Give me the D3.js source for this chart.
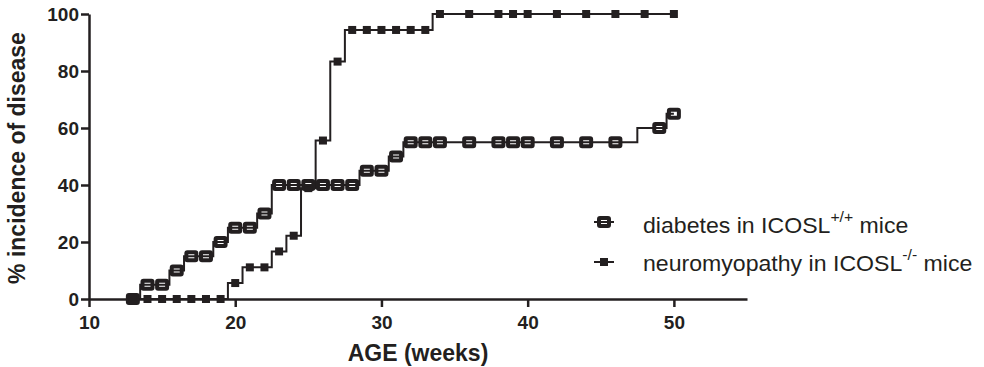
<!DOCTYPE html>
<html>
<head>
<meta charset="utf-8">
<script src="https://cdn.jsdelivr.net/npm/d3@7"></script>
<style>
  body { margin: 0; background: #fff; }
  text { font-family: "Liberation Sans", Arial, sans-serif; fill: #231f20; }
</style>
</head>
<body>
<div id="chart"></div>
<script>
// ages in weeks and % incidence
const diabetesWeeks = [13, 14, 15, 16, 17, 18, 19, 20, 21, 22, 23, 24, 25, 26, 27, 28, 29, 30, 31, 32, 33, 34, 36, 38, 39, 40, 42, 44, 46, 49, 50];
const diabetesPct = [0, 5, 5, 10, 15, 15, 20, 25, 25, 30, 40, 40, 40, 40, 40, 40, 45, 45, 50, 55, 55, 55, 55, 55, 55, 55, 55, 55, 55, 60, 65];

const neuroWeeks = [13, 14, 15, 16, 17, 18, 19, 20, 21, 22, 23, 24, 25, 26, 27, 28, 29, 30, 31, 32, 33, 34, 36, 38, 39, 40, 42, 44, 46, 48, 50];
const neuroPct = [0, 0, 0, 0, 0, 0, 0, 5.6, 11.1, 11.1, 16.7, 22.2, 38.9, 55.6, 83.3, 94.4, 94.4, 94.4, 94.4, 94.4, 94.4, 100, 100, 100, 100, 100, 100, 100, 100, 100, 100];

const xTicks = [10, 20, 30, 40, 50];
const yTicks = [0, 20, 40, 60, 80, 100];

const width = 984;
const height = 367;
const ink = '#231f20';

const svg = d3.select('#chart')
  .append('svg')
  .attr('width', width)
  .attr('height', height);

const x = d3.scaleLinear().domain([10, 55]).range([89, 747]);
const y = d3.scaleLinear().domain([0, 100]).range([299, 14]);

// axes
const xAxis = d3.axisBottom(x).tickValues(xTicks).tickSize(8).tickSizeOuter(0).tickPadding(9);
const gx = svg.append('g')
  .attr('transform', `translate(0, ${y(0)})`)
  .call(xAxis);

const yAxis = d3.axisLeft(y).tickValues(yTicks).tickSize(8).tickSizeOuter(0).tickPadding(2);
const gy = svg.append('g')
  .attr('transform', `translate(${x(10)}, 0)`)
  .call(yAxis);

[gx, gy].forEach(g => {
  g.select('.domain').attr('stroke', ink).attr('stroke-width', 2.5);
  g.selectAll('.tick line').attr('stroke', ink).attr('stroke-width', 2.5);
  g.selectAll('.tick text')
    .attr('fill', ink)
    .style('font-size', '19px')
    .style('font-weight', 'bold');
});
gy.selectAll('.tick text').attr('dy', '0.36em');

// titles
svg.append('text')
  .attr('x', (x(10) + x(55)) / 2)
  .attr('y', 361)
  .attr('text-anchor', 'middle')
  .style('font-size', '23px')
  .style('font-weight', 'bold')
  .text('AGE (weeks)');

svg.append('text')
  .attr('transform', 'translate(25, 158) rotate(-90)')
  .attr('text-anchor', 'middle')
  .style('font-size', '23px')
  .style('font-weight', 'bold')
  .text('% incidence of disease');

const line = d3.line()
  .x(d => x(d[0]))
  .y(d => y(d[1]))
  .curve(d3.curveStep);

const diabetes = diabetesWeeks.map((w, i) => [w, diabetesPct[i]]);
const neuro = neuroWeeks.map((w, i) => [w, neuroPct[i]]);

// neuromyopathy series
svg.append('path')
  .datum(neuro)
  .attr('d', line)
  .attr('fill', 'none')
  .attr('stroke', ink)
  .attr('stroke-width', 2);

// diabetes series
svg.append('path')
  .datum(diabetes)
  .attr('d', line)
  .attr('fill', 'none')
  .attr('stroke', ink)
  .attr('stroke-width', 2);

svg.append('g')
  .selectAll('rect')
  .data(diabetes)
  .join('rect')
  .attr('x', d => x(d[0]) - 5)
  .attr('y', d => y(d[1]) - 4)
  .attr('width', 10)
  .attr('height', 8)
  .attr('rx', 1)
  .attr('fill', 'none')
  .attr('stroke', ink)
  .attr('stroke-width', 4);

svg.append('g')
  .selectAll('rect')
  .data(neuro)
  .join('rect')
  .attr('x', d => x(d[0]) - 4)
  .attr('y', d => y(d[1]) - 4)
  .attr('width', 8)
  .attr('height', 8)
  .attr('fill', ink);

// legend
const legend = svg.append('g');

legend.append('line')
  .attr('x1', 594).attr('x2', 614)
  .attr('y1', 222).attr('y2', 222)
  .attr('stroke', ink).attr('stroke-width', 2);
legend.append('rect')
  .attr('x', 599).attr('y', 218)
  .attr('width', 10).attr('height', 8).attr('rx', 1)
  .attr('fill', 'none').attr('stroke', ink).attr('stroke-width', 4);

legend.append('line')
  .attr('x1', 594).attr('x2', 614)
  .attr('y1', 262).attr('y2', 262)
  .attr('stroke', ink).attr('stroke-width', 2);
legend.append('rect')
  .attr('x', 600).attr('y', 258)
  .attr('width', 8).attr('height', 8)
  .attr('fill', ink);

const t1 = legend.append('text')
  .attr('transform', 'translate(643, 233) scale(1.05, 1)')
  .style('font-size', '22px');
t1.append('tspan').text('diabetes in ICOSL');
t1.append('tspan').attr('dy', -11).style('font-size', '15px').text('+/+');
t1.append('tspan').attr('dy', 11).text(' mice');

const t2 = legend.append('text')
  .attr('transform', 'translate(643, 271) scale(1.05, 1)')
  .style('font-size', '22px');
t2.append('tspan').text('neuromyopathy in ICOSL');
t2.append('tspan').attr('dy', -11).style('font-size', '15px').text('-/-');
t2.append('tspan').attr('dy', 11).text(' mice');
</script>
</body>
</html>
